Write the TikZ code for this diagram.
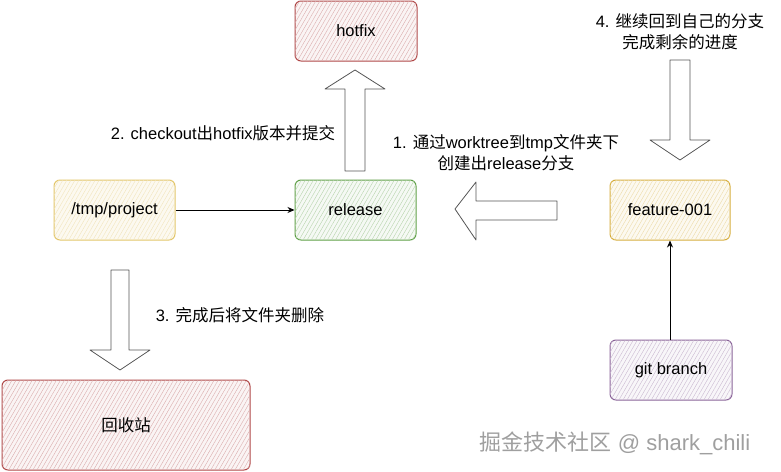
\documentclass[tikz,border=0pt]{standalone}
\usepackage{fontspec}
\setmainfont{Liberation Sans}
\newfontfamily\cjk{Noto Sans CJK SC}
\usetikzlibrary{patterns.meta,arrows.meta}
\definecolor{redS}{HTML}{B04848}
\definecolor{greenS}{HTML}{5FA047}
\definecolor{yelS}{HTML}{E3C66A}
\definecolor{orgS}{HTML}{D6AE3E}
\definecolor{purS}{HTML}{8A6499}
\definecolor{arrS}{HTML}{555555}
\tikzset{
  box/.style={draw=#1, line width=1pt, rounded corners=6pt, minimum height=60pt,
    font=\fontsize{16.5}{19}\selectfont,
    postaction={pattern={Lines[angle=60,distance=3.5pt,line width=0.4pt]}, pattern color=#1!45}},
  blockarrow/.style={draw=arrS, line width=0.8pt, fill=white, line join=round},
  lbl/.style={font=\fontsize{16.5}{21}\selectfont, align=center, text=black},
  conn/.style={draw=black, line width=0.9pt, -{Stealth[length=7pt,width=6pt]}}
}
\begin{document}
\begin{tikzpicture}[x=1pt,y=-1pt]
\useasboundingbox (0,0) rectangle (781,471);
% boxes
\node[box=redS, fill=redS!6, minimum width=122pt] (hotfix) at (356,31) {hotfix};
\node[box=greenS, fill=greenS!6, minimum width=121pt] (release) at (355.5,210) {release};
\node[box=yelS, fill=yelS!10, minimum width=121pt] (project) at (114.5,210) {/tmp/project};
\node[box=orgS, fill=orgS!8, minimum width=120pt] (feature) at (670,210) {feature-001};
\node[box=purS, fill=purS!6, minimum width=122pt] (git) at (671,370) {git branch};
\node[box=redS, fill=redS!6, minimum width=248pt, minimum height=90pt] (bin) at (126,425) {{\cjk 回收站}};
% connectors
\draw[conn] (project.east) -- (release.west);
\draw[conn] (git.north -| feature.south) -- (feature.south);
% block arrows
\draw[blockarrow] (355,70) -- (385,89) -- (365,89) -- (365,171) -- (345,171) -- (345,89) -- (325,89) -- cycle;
\draw[blockarrow] (455,209) -- (476,182) -- (476,201) -- (557,201) -- (557,220) -- (476,220) -- (476,240) -- cycle;
\draw[blockarrow] (680,160) -- (710,140) -- (690,140) -- (690,60) -- (670,60) -- (670,140) -- (650,140) -- cycle;
\draw[blockarrow] (120,370) -- (150,350) -- (129,350) -- (129,270) -- (111,270) -- (111,350) -- (90,350) -- cycle;
% labels
\node[lbl] (t4) at (680,32) {4. {\cjk 继续回到自己的分支}\\{\cjk 完成剩余的进度}};
\node[lbl] (t1) at (506,153) {1. {\cjk 通过}worktree{\cjk 到}tmp{\cjk 文件夹下}\\{\cjk 创建出}release{\cjk 分支}};
\node[lbl] (t2) at (223,133) {2. checkout{\cjk 出}hotfix{\cjk 版本并提交}};
\node[lbl] (t3) at (240,315) {3. {\cjk 完成后将文件夹删除}};
% watermark
\node[font=\fontsize{22}{24}\selectfont, text=gray!75] (wm) at (615,443) {{\cjk 掘金技术社区} @ shark\_chili};
\end{tikzpicture}
\end{document}
